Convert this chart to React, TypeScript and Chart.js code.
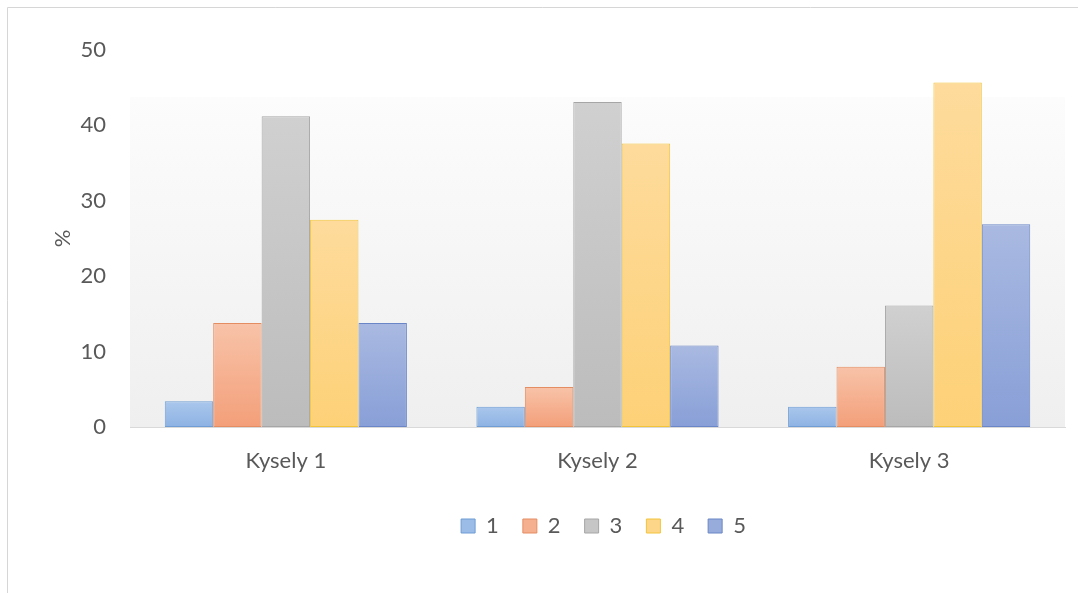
import React, { useEffect, useRef } from "react";
import { Chart, registerables } from "chart.js";

Chart.register(...registerables);

const categories = ["Kysely 1", "Kysely 2", "Kysely 3"];
const seriesNames = ["1", "2", "3", "4", "5"];
const series1 = [3.4, 2.7, 2.7];
const series2 = [13.8, 5.3, 8.0];
const series3 = [41.2, 43.1, 16.1];
const series4 = [27.5, 37.6, 45.7];
const series5 = [13.8, 10.8, 26.9];
const yAxisTitle = "%";

const seriesValues = [series1, series2, series3, series4, series5];
const colorTop = ["#aac7ec", "#f8c3a9", "#d0d0d0", "#fedb9c", "#a9b9e1"];
const colorBottom = ["#8db2e3", "#f39f79", "#bcbcbc", "#fdd177", "#889fd7"];
const colorMid = ["#9bbce7", "#f5b090", "#c6c6c6", "#fdd68a", "#98acdc"];
const colorBorder = ["#6f9dd4", "#e58d62", "#a6a6a6", "#f2c43a", "#6a86c6"];

const FONT = "Lato, 'Open Sans', sans-serif";
const TEXT = "#595959";
const FS = 22;

const framePlugin = {
  id: "frame",
  afterLayout(chart: any) {
    const lg = chart.legend;
    if (lg) {
      lg.left += 6;
      lg.right += 6;
    }
  },
  beforeDraw(chart: any) {
    const { ctx, chartArea, width, height } = chart;
    ctx.save();
    ctx.fillStyle = "#ffffff";
    ctx.fillRect(0, 0, width, height);
    const yScale = chart.scales.y;
    const bgTop = chartArea.top + (chartArea.bottom - chartArea.top) * 0.125;
    const g = ctx.createLinearGradient(0, bgTop, 0, chartArea.bottom);
    g.addColorStop(0, "#fcfcfc");
    g.addColorStop(1, "#efefef");
    ctx.fillStyle = g;
    ctx.fillRect(chartArea.left, bgTop, chartArea.right - chartArea.left, yScale.bottom - bgTop);
    ctx.strokeStyle = "#d6d6d6";
    ctx.lineWidth = 1;
    ctx.beginPath();
    ctx.moveTo(7.5, height);
    ctx.lineTo(7.5, 7.5);
    ctx.lineTo(width, 7.5);
    ctx.stroke();
    ctx.restore();
  },
};

export default function App() {
  const canvasRef = useRef<HTMLCanvasElement | null>(null);

  useEffect(() => {
    if (!canvasRef.current) return;
    const datasets = seriesNames.map((name, i) => ({
      label: name,
      data: seriesValues[i],
      backgroundColor: (ctx: any) => {
        const chart = ctx.chart;
        if (!chart.chartArea || ctx.type !== "data" || ctx.raw == null) return colorMid[i];
        const y = chart.scales.y;
        const top = y.getPixelForValue(ctx.raw);
        const bottom = y.getPixelForValue(0);
        if (!isFinite(top) || !isFinite(bottom) || top === bottom) return colorMid[i];
        const g = chart.ctx.createLinearGradient(0, top, 0, bottom);
        g.addColorStop(0, colorTop[i]);
        g.addColorStop(1, colorBottom[i]);
        return g;
      },
      borderColor: colorBorder[i],
      borderWidth: 1,
      borderSkipped: false,
      barPercentage: 1,
      categoryPercentage: 0.777,
    }));

    const chart = new Chart(canvasRef.current, {
      type: "bar",
      data: { labels: categories, datasets },
      plugins: [framePlugin],
      options: {
        animation: false,
        responsive: true,
        maintainAspectRatio: false,
        layout: { padding: { left: 0, right: 13, top: 50, bottom: 46 } },
        plugins: {
          tooltip: { enabled: false },
          legend: {
            position: "bottom",
            fullSize: false,
            labels: {
              boxWidth: 14,
              boxHeight: 14,
              padding: 24,
              color: TEXT,
              font: { family: FONT, size: FS },
              generateLabels: () =>
                seriesNames.map((n, i) => ({
                  text: n,
                  fillStyle: colorMid[i],
                  strokeStyle: colorBorder[i],
                  lineWidth: 1,
                  hidden: false,
                  datasetIndex: i,
                  fontColor: TEXT,
                })),
            },
          },
        },
        scales: {
          x: {
            grid: { display: false, drawTicks: false },
            border: { display: true, color: "#d9d9d9", width: 1 },
            ticks: { color: TEXT, font: { family: FONT, size: FS }, padding: 21 },
            afterFit: (scale: any) => {
              scale.height = 64;
            },
          },
          y: {
            min: 0,
            max: 50,
            ticks: { stepSize: 10, color: TEXT, font: { family: FONT, size: FS }, padding: 24 },
            grid: { display: false, drawTicks: false },
            border: { display: false },
            title: {
              display: true,
              text: yAxisTitle,
              color: TEXT,
              font: { family: FONT, size: FS },
              padding: { top: 50, bottom: 0 },
            },
            afterFit: (scale: any) => {
              scale.width = 130;
            },
          },
        },
      },
    });
    return () => chart.destroy();
  }, []);

  return (
    <div style={{ position: "absolute", left: 0, top: 0, width: 1078, height: 593 }}>
      <canvas ref={canvasRef} />
    </div>
  );
}
